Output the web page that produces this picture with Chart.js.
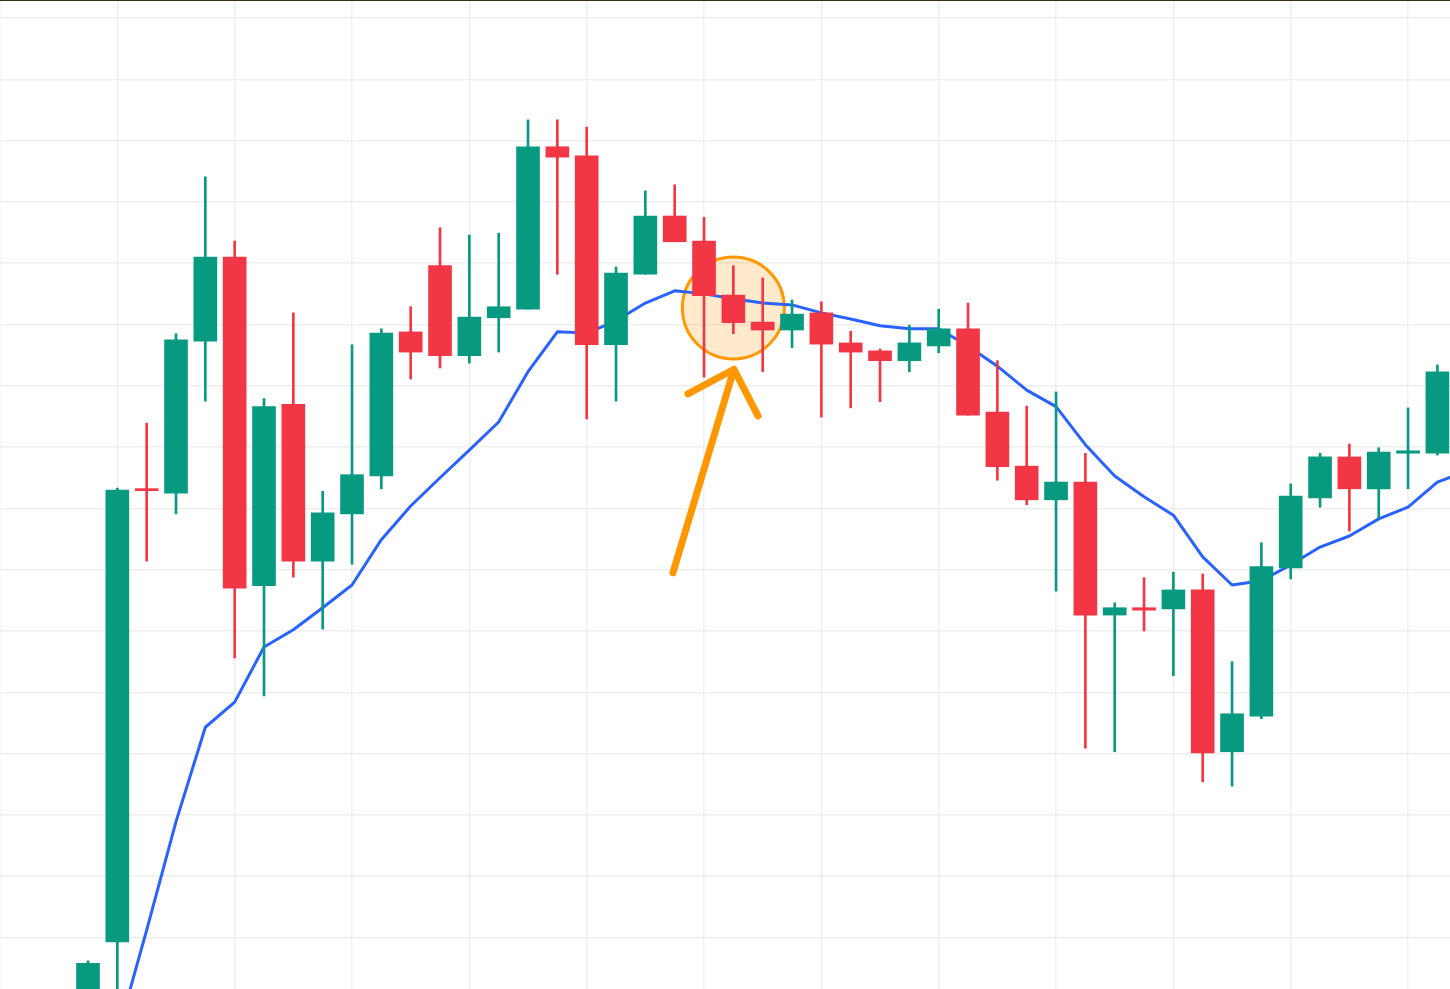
<!DOCTYPE html>
<html>
<head>
<meta charset="utf-8">
<script src="https://cdn.jsdelivr.net/npm/chart.js@4/dist/chart.umd.min.js"></script>
<style>
  html, body { margin: 0; padding: 0; background: #fff; overflow: hidden; }
  #wrap { position: relative; width: 1450px; height: 989px; }
  #topline { position: absolute; left: 0; top: 0; width: 1450px; height: 1px; background: #3d2e17; z-index: 2; }
</style>
</head>
<body>
<div id="wrap">
  <div id="topline"></div>
  <canvas id="canvas" width="1450" height="989"></canvas>
</div>
<script>
// candle slots (x index on a linear axis, grid every 4 candles)
var slots = [3, 4, 5, 6, 7, 8, 9, 10, 11, 12, 13, 14, 15, 16, 17, 18, 19, 20, 21, 22, 23, 24,
  25, 26, 27, 28, 29, 30, 31, 32, 33, 34, 35, 36, 37, 38, 39, 40, 41, 42, 43, 44, 45, 46, 47, 48, 49];

var opens  = [88.2, 99.3, 173.2, 172.5, 197.3, 211.0, 157.4, 187.0, 161.4, 169.1, 175.3, 198.8,
  209.6, 194.9, 201.1, 202.5, 229.0, 227.5, 196.7, 208.2, 217.7, 213.6, 204.8, 200.4, 199.1,
  201.9, 197.0, 195.7, 194.1, 196.5, 199.3, 185.7, 176.9, 171.4, 174.3, 152.6, 153.8, 153.6,
  156.7, 130.3, 136.1, 160.3, 171.7, 178.4, 173.2, 179.0, 179.0];
var highs  = [96.2, 173.3, 183.9, 198.5, 224.1, 213.6, 187.9, 201.9, 172.8, 196.7, 199.3, 202.9,
  215.8, 214.6, 214.9, 233.4, 233.4, 232.2, 209.4, 221.8, 222.8, 217.5, 209.6, 207.6, 204.0,
  203.7, 198.9, 196.0, 199.9, 202.5, 203.5, 194.1, 186.7, 189.0, 179.0, 154.6, 158.7, 159.6,
  159.3, 145.0, 164.4, 174.0, 179.0, 180.5, 179.9, 186.4, 193.4];
var lows   = [84.9, 86.0, 161.4, 169.1, 187.5, 145.6, 139.4, 158.8, 150.3, 160.9, 173.2, 191.1,
  192.9, 193.7, 195.5, 202.5, 208.2, 184.6, 187.5, 208.2, 213.5, 191.4, 198.5, 192.3, 196.2,
  184.9, 186.4, 187.4, 192.3, 195.4, 185.2, 174.6, 170.6, 156.5, 130.9, 130.3, 150.0, 142.7,
  125.4, 124.7, 135.7, 158.5, 170.2, 166.3, 168.4, 173.2, 178.7];
var closes = [95.8, 173.0, 172.9, 197.5, 211.0, 157.0, 186.6, 161.4, 169.3, 175.5, 198.6, 195.5,
  194.9, 201.2, 202.9, 229.0, 227.3, 196.7, 208.4, 217.7, 213.5, 204.7, 200.3, 199.1, 201.7,
  196.8, 195.5, 194.1, 197.0, 199.3, 185.2, 176.8, 171.4, 174.3, 152.6, 153.8, 153.4, 156.7,
  130.1, 136.5, 160.5, 172.0, 178.4, 173.2, 179.2, 179.4, 192.3];

// moving average, one more slot than candles (runs off the right edge)
var maSlots = [4, 5, 6, 7, 8, 9, 10, 11, 12, 13, 14, 15, 16, 17, 18, 19, 20, 21, 22, 23, 24, 25,
  26, 27, 28, 29, 30, 31, 32, 33, 34, 35, 36, 37, 38, 39, 40, 41, 42, 43, 44, 45, 46, 47, 48, 49, 50];
var maValues = [84.1, 101.2, 118.9, 134.3, 138.4, 147.4, 150.2, 153.8, 157.5, 164.9, 170.4, 175.0,
  179.5, 184.1, 192.3, 198.8, 198.6, 200.6, 203.5, 205.5, 205.0, 204.2, 203.5, 203.2, 201.9,
  200.9, 199.8, 199.3, 199.3, 196.5, 193.2, 189.3, 186.6, 180.4, 175.3, 171.9, 168.9, 162.1,
  157.5, 158.2, 160.8, 163.7, 165.5, 168.3, 170.2, 174.3, 176.1];

// annotation: highlighted candle and arrow pointing at it
var markX = [25];
var markY = [202.7];
var arrowX = [22.94, 25.02, null, 23.45, 25.02, 25.84];
var arrowY = [159.5, 192.7, null, 188.7, 192.7, 185.1];

var UP = '#089981';
var DOWN = '#F23645';

var candleColors = opens.map(function (o, i) { return closes[i] >= o ? UP : DOWN; });

var bodies = slots.map(function (x, i) { return { x: x, y: [opens[i], closes[i]] }; });
var wicks = slots.map(function (x, i) { return { x: x, y: [lows[i], highs[i]] }; });
var ma = maSlots.map(function (x, i) { return { x: x, y: maValues[i] }; });
var mark = markX.map(function (x, i) { return { x: x, y: markY[i] }; });
var arrow = arrowX.map(function (x, i) { return { x: x, y: arrowY[i] }; });

var ctx = document.getElementById('canvas').getContext('2d');
var chart = new Chart(ctx, {
  type: 'bar',
  data: {
    datasets: [
      {
        type: 'line',
        label: 'arrow',
        data: arrow,
        borderColor: '#FF9800',
        borderWidth: 7,
        borderCapStyle: 'round',
        borderJoinStyle: 'round',
        pointRadius: 0,
        spanGaps: false,
        order: 0
      },
      {
        label: 'body',
        data: bodies,
        backgroundColor: candleColors,
        barThickness: 23,
        minBarLength: 2,
        grouped: false,
        borderSkipped: false,
        order: 1
      },
      {
        label: 'wick',
        data: wicks,
        backgroundColor: candleColors,
        barThickness: 2,
        grouped: false,
        order: 2
      },
      {
        type: 'line',
        label: 'MA',
        data: ma,
        borderColor: '#2962FF',
        borderWidth: 3,
        borderJoinStyle: 'round',
        pointRadius: 0,
        tension: 0,
        order: 3
      },
      {
        type: 'line',
        label: 'mark',
        data: mark,
        showLine: false,
        pointRadius: 51,
        pointBackgroundColor: 'rgba(255, 152, 0, 0.2)',
        pointBorderColor: '#FF9800',
        pointBorderWidth: 3,
        order: 4
      }
    ]
  },
  options: {
    responsive: false,
    devicePixelRatio: 1,
    animation: false,
    layout: { padding: 0, autoPadding: false },
    plugins: {
      legend: { display: false },
      tooltip: { enabled: false }
    },
    scales: {
      x: {
        type: 'linear',
        min: 0,
        max: 49.43,
        offset: false,
        border: { display: false },
        grid: { color: '#eeeeee', lineWidth: 1.5, drawTicks: false, offset: false },
        ticks: { display: false, stepSize: 4, includeBounds: false }
      },
      y: {
        type: 'linear',
        min: 91.6,
        max: 252.94,
        border: { display: false },
        grid: { color: '#eeeeee', lineWidth: 1.5, drawTicks: false },
        ticks: { display: false, stepSize: 10, includeBounds: false }
      }
    }
  }
});
</script>
</body>
</html>
